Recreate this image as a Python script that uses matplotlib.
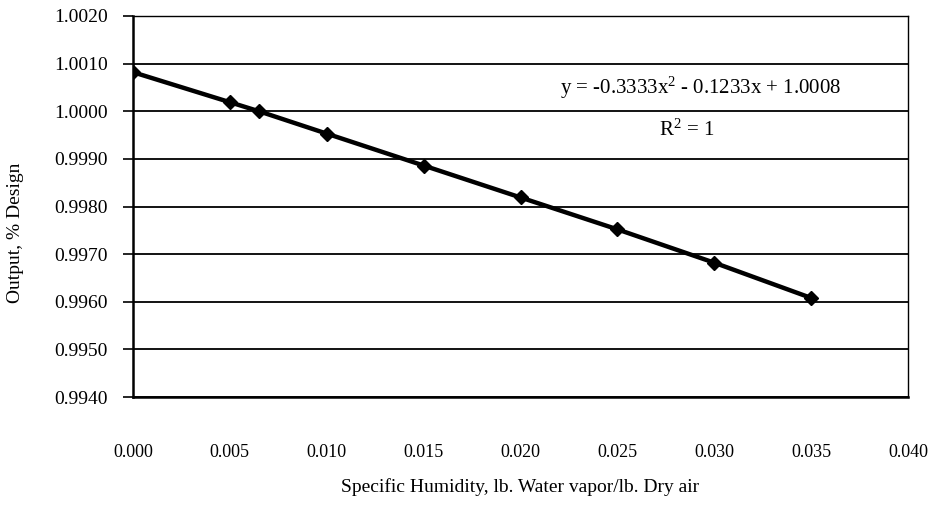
import numpy as np
import matplotlib
matplotlib.use('Agg')
import matplotlib.pyplot as plt

plt.rcParams['font.family'] = ['Liberation Serif', 'DejaVu Serif']
plt.rcParams['mathtext.fontset'] = 'custom'
plt.rcParams['mathtext.rm'] = 'Liberation Serif'
plt.rcParams['mathtext.it'] = 'Liberation Serif'

# %% data

humidity = [0.000, 0.005, 0.0065, 0.010, 0.015, 0.020, 0.025, 0.030, 0.035]
output = [1.00082, 1.00019, 1.00000, 0.99953, 0.99886, 0.99819, 0.99752, 0.99682, 0.99608]

x_ticks = [0.000, 0.005, 0.010, 0.015, 0.020, 0.025, 0.030, 0.035, 0.040]
y_ticks = [0.9940, 0.9950, 0.9960, 0.9970, 0.9980, 0.9990, 1.0000, 1.0010, 1.0020]

eq_text = r'y = -0.3333x$^{\mathrm{2}}$ - 0.1233x + 1.0008'
r2_text = r'R$^{\mathrm{2}}$ = 1'

# %% plot

fig = plt.figure(figsize=(9.32, 5.05), dpi=100)
ax = fig.add_axes([133/932, 1 - 397/505, (908-133)/932, (397-16)/505])

ax.plot(humidity, output, color='black', lw=3.2, marker='D', ms=7.5,
        solid_joinstyle='round', zorder=3)

ax.set_xlim(0, 0.040)
ax.set_ylim(0.9940, 1.0020)
ax.set_xticks(x_ticks)
ax.set_xticklabels(['%.3f' % v for v in x_ticks], fontsize=13)
ax.set_yticks(y_ticks)
ax.set_yticklabels(['%.4f' % v for v in y_ticks], fontsize=14)
ax.yaxis.grid(True, color='black', lw=1.3)
ax.set_axisbelow(True)
ax.tick_params(axis='y', length=7, width=1.2, pad=11)
ax.tick_params(axis='x', length=0, pad=34)

for side in ['left', 'bottom']:
    ax.spines[side].set_linewidth(1.8)
for side in ['top', 'right']:
    ax.spines[side].set_linewidth(1.0)

ax.set_xlabel('Specific Humidity, lb. Water vapor/lb. Dry air', fontsize=14, labelpad=12)
ax.set_ylabel('Output, % Design', fontsize=14, labelpad=12)
ax.yaxis.set_label_coords(-0.14, 0.43)

ax.text(0.733, 0.81, eq_text, transform=ax.transAxes, ha='center', va='center', fontsize=15)
ax.text(0.714, 0.70, r2_text, transform=ax.transAxes, ha='center', va='center', fontsize=15)

fig.savefig('out.png', dpi=100)
